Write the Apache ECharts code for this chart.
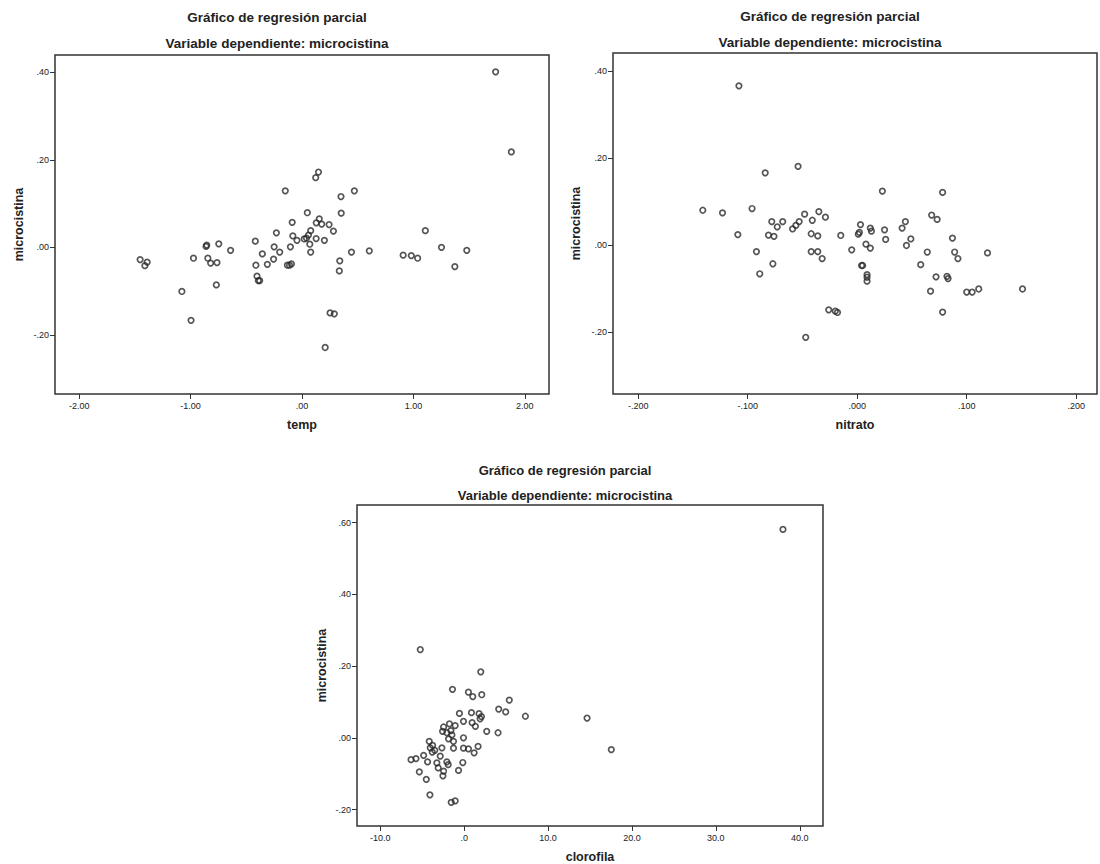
<!DOCTYPE html>
<html><head><meta charset="utf-8">
<script src="https://cdn.jsdelivr.net/npm/echarts@6/dist/echarts.min.js"></script>
<style>html,body{margin:0;padding:0;background:#fff}#c{width:1100px;height:864px}</style>
</head><body><div id="c"></div>
<script>
const titleText = 'Gráfico de regresión parcial';
const subtitleText = 'Variable dependiente: microcistina';
const yName = 'microcistina';
const xNames = ['temp', 'nitrato', 'clorofila'];

const tempPoints = [[-1.453,-0.028],[-1.39,-0.034],[-1.41,-0.042],[-0.974,-0.025],[-1.078,-0.101],[-0.996,-0.167],[-0.861,0.002],[-0.855,0.005],[-0.747,0.008],[-0.845,-0.025],[-0.82,-0.036],[-0.763,-0.035],[-0.769,-0.086],[-0.641,-0.007],[-0.419,0.014],[-0.414,-0.041],[-0.404,-0.066],[-0.392,-0.076],[-0.38,-0.076],[-0.356,-0.015],[-0.311,-0.039],[-0.255,-0.027],[-0.25,0.001],[-0.23,0.033],[-0.2,-0.011],[-0.15,0.129],[-0.131,-0.041],[-0.112,-0.041],[-0.095,-0.038],[-0.104,0.001],[-0.088,0.057],[-0.082,0.026],[-0.045,0.016],[0.02,0.019],[0.04,0.021],[0.048,0.079],[0.058,0.028],[0.078,0.038],[0.07,0.007],[0.078,-0.011],[0.123,0.159],[0.148,0.172],[0.128,0.056],[0.155,0.065],[0.177,0.053],[0.127,0.020],[0.201,0.016],[0.243,0.052],[0.282,0.037],[0.252,-0.150],[0.29,-0.152],[0.208,-0.229],[0.35,0.116],[0.352,0.078],[0.339,-0.031],[0.335,-0.054],[0.47,0.129],[0.444,-0.011],[0.604,-0.008],[0.908,-0.018],[0.981,-0.019],[1.038,-0.025],[1.107,0.038],[1.252,0.000],[1.372,-0.044],[1.479,-0.007],[1.738,0.401],[1.879,0.218]];

const nitratoPoints = [[-0.108,0.367],[-0.054,0.182],[-0.084,0.167],[-0.141,0.081],[-0.123,0.075],[-0.096,0.085],[-0.109,0.025],[-0.092,-0.014],[-0.089,-0.065],[-0.078,0.055],[-0.073,0.043],[-0.068,0.055],[-0.081,0.024],[-0.076,0.021],[-0.077,-0.042],[-0.059,0.038],[-0.056,0.046],[-0.053,0.055],[-0.048,0.072],[-0.041,0.058],[-0.042,0.027],[-0.042,-0.014],[-0.035,0.078],[-0.036,0.022],[-0.036,-0.014],[-0.032,-0.030],[-0.029,0.065],[-0.015,0.023],[-0.047,-0.211],[-0.026,-0.148],[-0.020,-0.151],[-0.018,-0.154],[-0.005,-0.010],[0.001,0.026],[0.002,0.030],[0.003,0.048],[0.004,-0.046],[0.005,-0.046],[0.008,0.003],[0.009,-0.067],[0.009,-0.073],[0.009,-0.082],[0.012,-0.006],[0.012,0.040],[0.013,0.033],[0.023,0.125],[0.025,0.036],[0.026,0.014],[0.041,0.040],[0.044,0.055],[0.045,0.000],[0.049,0.015],[0.058,-0.044],[0.064,-0.015],[0.068,0.070],[0.073,0.060],[0.072,-0.072],[0.067,-0.105],[0.078,0.122],[0.078,-0.153],[0.082,-0.071],[0.083,-0.076],[0.087,0.017],[0.089,-0.015],[0.092,-0.030],[0.100,-0.107],[0.105,-0.107],[0.111,-0.100],[0.119,-0.017],[0.151,-0.100]];

const clorofilaPoints = [[38.0,0.581],[-5.23,0.246],[1.98,0.184],[-1.39,0.135],[0.51,0.127],[1.03,0.115],[2.1,0.12],[5.38,0.105],[4.12,0.080],[4.95,0.072],[7.3,0.060],[14.65,0.055],[17.54,-0.033],[-0.56,0.068],[0.87,0.070],[1.78,0.067],[2.06,0.059],[1.9,0.053],[-0.08,0.046],[0.95,0.042],[1.34,0.032],[-1.75,0.039],[-1.07,0.034],[-2.45,0.030],[2.69,0.018],[4.04,0.014],[-2.57,0.018],[-2.06,0.014],[-1.58,0.020],[-1.46,0.008],[-0.08,0.000],[-1.86,-0.003],[-1.27,-0.010],[-4.16,-0.010],[-3.76,-0.021],[-4.04,-0.028],[-2.65,-0.028],[-1.27,-0.029],[-0.08,-0.029],[0.51,-0.031],[1.66,-0.024],[1.19,-0.042],[-3.80,-0.040],[-3.5,-0.035],[-4.83,-0.049],[-2.85,-0.051],[-5.74,-0.058],[-6.33,-0.061],[-4.36,-0.067],[-3.25,-0.070],[-2.06,-0.067],[-1.9,-0.075],[-0.16,-0.069],[-3.09,-0.084],[-2.45,-0.093],[-0.67,-0.091],[-5.34,-0.095],[-2.53,-0.106],[-4.51,-0.116],[-4.08,-0.159],[-1.54,-0.180],[-1.07,-0.176]];

const xTicks1 = [-2, -1, 0, 1, 2];
const xLabels1 = ['-2.00', '-1.00', '.00', '1.00', '2.00'];
const yTicks12 = [-0.2, 0, 0.2, 0.4];
const yLabels12 = ['-.20', '.00', '.20', '.40'];
const xTicks2 = [-0.2, -0.1, 0, 0.1, 0.2];
const xLabels2 = ['-.200', '-.100', '.000', '.100', '.200'];
const xTicks3 = [-10, 0, 10, 20, 30, 40];
const xLabels3 = ['-10.0', '.0', '10.0', '20.0', '30.0', '40.0'];
const yTicks3 = [-0.2, 0, 0.2, 0.4, 0.6];
const yLabels3 = ['-.20', '.00', '.20', '.40', '.60'];

const FONT = '"Liberation Sans", Arial, sans-serif';
const INK = '#222';
const LINE = '#333';

function fmt(ticks, labels) {
  return function (v) {
    const i = ticks.findIndex(t => Math.abs(t - v) < 1e-9);
    return i >= 0 ? labels[i] : '';
  };
}

function makeX(gi, min, max, ticks, labels, name) {
  return {
    type: 'value', gridIndex: gi, min: min, max: max, position: 'bottom',
    name: name, nameLocation: 'middle', nameGap: 24,
    nameTextStyle: { fontFamily: FONT, fontWeight: 'bold', fontSize: 12.5, color: INK },
    axisLine: { show: false, onZero: false },
    axisTick: { show: true, length: 5, lineStyle: { color: LINE, width: 1 }, customValues: ticks },
    axisLabel: { show: true, margin: 7, fontFamily: FONT, fontSize: 9, color: INK, customValues: ticks, formatter: fmt(ticks, labels) },
    splitLine: { show: false }
  };
}
function makeY(gi, min, max, ticks, labels, gap) {
  return {
    type: 'value', gridIndex: gi, min: min, max: max, position: 'left',
    name: yName, nameLocation: 'middle', nameGap: gap,
    nameTextStyle: { fontFamily: FONT, fontWeight: 'bold', fontSize: 12.5, color: INK },
    axisLine: { show: false, onZero: false },
    axisTick: { show: true, length: 5, lineStyle: { color: LINE, width: 1 }, customValues: ticks },
    axisLabel: { show: true, margin: 6, fontFamily: FONT, fontSize: 9, color: INK, customValues: ticks, formatter: fmt(ticks, labels) },
    splitLine: { show: false }
  };
}
function makeSeries(i, data) {
  return {
    type: 'scatter', xAxisIndex: i, yAxisIndex: i, data: data,
    symbol: 'circle', symbolSize: 5.5,
    itemStyle: { color: 'rgba(255,255,255,0)', borderColor: '#2b2b2b', borderWidth: 1.7 },
    emphasis: { disabled: true }, silent: true, animation: false
  };
}
function titleTexts(cx, y1, y2, size) {
  return [
    { type: 'text', x: cx, y: y1, style: { text: titleText, font: 'bold ' + size + 'px ' + FONT, fill: INK, align: 'center', verticalAlign: 'middle' } },
    { type: 'text', x: cx, y: y2, style: { text: subtitleText, font: 'bold ' + size + 'px ' + FONT, fill: INK, align: 'center', verticalAlign: 'middle' } }
  ];
}

const chart = echarts.init(document.getElementById('c'), null, { renderer: 'svg' });
chart.setOption({
  backgroundColor: '#fff',
  animation: false,
  grid: [
    { left: 55, top: 55, width: 494, height: 339, show: true, borderColor: LINE, borderWidth: 1.5, backgroundColor: 'transparent' },
    { left: 613, top: 53, width: 484, height: 341, show: true, borderColor: LINE, borderWidth: 1.5, backgroundColor: 'transparent' },
    { left: 357, top: 505, width: 466, height: 321, show: true, borderColor: LINE, borderWidth: 1.5, backgroundColor: 'transparent' }
  ],
  xAxis: [
    makeX(0, -2.217, 2.217, xTicks1, xLabels1, xNames[0]),
    makeX(1, -0.223, 0.219, xTicks2, xLabels2, xNames[1]),
    makeX(2, -12.77, 42.77, xTicks3, xLabels3, xNames[2])
  ],
  yAxis: [
    makeY(0, -0.3353, 0.4395, yTicks12, yLabels12, 30),
    makeY(1, -0.3414, 0.4425, yTicks12, yLabels12, 30.5),
    makeY(2, -0.246, 0.649, yTicks3, yLabels3, 29)
  ],
  series: [
    makeSeries(0, tempPoints),
    makeSeries(1, nitratoPoints),
    makeSeries(2, clorofilaPoints)
  ],
  graphic: [].concat(
    titleTexts(277, 17, 43, 13.5),
    titleTexts(830, 16, 42, 13.5),
    titleTexts(565, 470, 495, 13)
  )
});
</script>
</body></html>
